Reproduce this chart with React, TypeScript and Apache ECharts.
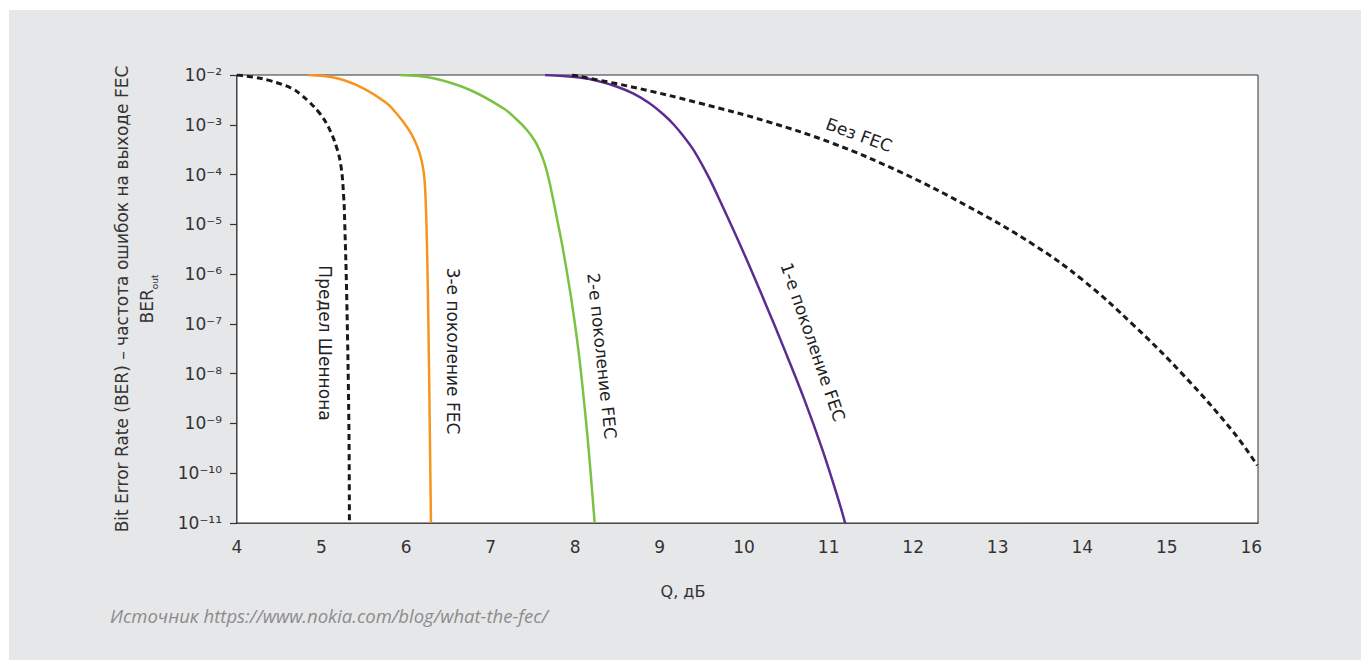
import React, { useEffect, useRef } from 'react';
import * as echarts from 'echarts';

// Q (dB) and log10(BER) readings per curve
const shannonQ = [4.0, 4.201, 4.391, 4.647, 4.76, 4.851, 4.978, 5.079, 5.176, 5.231, 5.262, 5.275, 5.299, 5.323, 5.33];
const shannonExp = [-2.0, -2.044, -2.114, -2.267, -2.402, -2.536, -2.769, -3.038, -3.44, -3.841, -4.444, -4.992, -6.518, -8.928, -11.0];

const gen3Q = [4.84, 5.183, 5.495, 5.772, 5.872, 5.968, 6.041, 6.099, 6.148, 6.182, 6.205, 6.219, 6.232, 6.249, 6.269, 6.284, 6.295];
const gen3Exp = [-2.0, -2.066, -2.267, -2.568, -2.743, -2.944, -3.124, -3.305, -3.506, -3.707, -3.908, -4.108, -4.51, -5.514, -7.522, -9.53, -11.0];

const gen2Q = [5.929, 6.323, 6.757, 7.151, 7.303, 7.43, 7.517, 7.579, 7.633, 7.677, 7.71, 7.742, 7.801, 7.858, 7.957, 8.039, 8.104, 8.161, 8.232];
const gen2Exp = [-2.0, -2.066, -2.301, -2.669, -2.884, -3.104, -3.305, -3.506, -3.747, -4.008, -4.249, -4.51, -5.012, -5.514, -6.518, -7.522, -8.526, -9.53, -11.0];

const gen1Q = [7.645, 8.095, 8.296, 8.497, 8.686, 8.876, 9.053, 9.172, 9.29, 9.401, 9.567, 9.71, 9.98, 10.234, 10.479, 10.714, 10.927, 11.116, 11.195];
const gen1Exp = [-2.0, -2.06, -2.133, -2.235, -2.369, -2.562, -2.803, -3.004, -3.245, -3.506, -4.008, -4.51, -5.514, -6.518, -7.522, -8.526, -9.53, -10.534, -11.0];

const noFecQ = [7.964, 8.686, 9.479, 10.272, 11.053, 11.846, 12.639, 13.42, 14.012, 14.604, 15.195, 15.787, 16.071];
const noFecExp = [-2.0, -2.245, -2.568, -2.934, -3.376, -3.948, -4.631, -5.404, -6.127, -7.02, -8.024, -9.169, -9.841];

const yTickExponents = [-2, -3, -4, -5, -6, -7, -8, -9, -10, -11];
const yTickLabels = ['10⁻²', '10⁻³', '10⁻⁴', '10⁻⁵', '10⁻⁶', '10⁻⁷', '10⁻⁸', '10⁻⁹', '10⁻¹⁰', '10⁻¹¹'];

const curveNames = ['Предел Шеннона', '3-е поколение FEC', '2-е поколение FEC', '1-е поколение FEC', 'Без FEC'];

const toPairs = (q: number[], e: number[]) => q.map((v, i) => [v, Math.pow(10, e[i])]);

export default function App() {
  const ref = useRef<HTMLDivElement>(null);
  useEffect(() => {
    if (!ref.current) return;
    const chart = echarts.init(ref.current, null, { renderer: 'svg' });
    const font = 'DejaVu Sans';
    const dashed = { color: '#1a1a1a', width: 3, type: [6, 4] as any };
    const labelText = (text: string, x: number, y: number, deg: number) => ({
      type: 'text',
      x,
      y,
      rotation: (deg * Math.PI) / 180,
      z: 100,
      style: {
        text,
        fontSize: 17,
        fontFamily: font,
        fill: '#222',
        align: 'center',
        verticalAlign: 'middle',
        textAlign: 'center',
        textVerticalAlign: 'middle',
      },
    });
    const line = (name: string, data: number[][], lineStyle: any) => ({
      name,
      type: 'line',
      data,
      smooth: 0.4,
      showSymbol: false,
      lineStyle,
      z: 5,
    });
    chart.setOption({
      animation: false,
      backgroundColor: '#ffffff',
      textStyle: { fontFamily: font },
      grid: {
        left: 237,
        right: 105,
        top: 75,
        bottom: 138,
        show: true,
        backgroundColor: '#ffffff',
        borderColor: '#333',
        borderWidth: 1,
        z: 1,
      },
      graphic: [
        {
          type: 'rect',
          z: -10,
          silent: true,
          shape: { x: 9, y: 10, width: 1352, height: 650 },
          style: { fill: '#e6e7e9' },
        },
        labelText(curveNames[0], 325, 343, -90),
        labelText(curveNames[1], 453, 351, -90),
        labelText(curveNames[2], 602, 356, -84),
        labelText(curveNames[3], 813, 342, -71),
        labelText(curveNames[4], 859, 135, -20),
        {
          type: 'text',
          x: 683,
          y: 591,
          style: {
            text: 'Q, дБ',
            fontSize: 16,
            fontFamily: font,
            fill: '#333',
            align: 'center',
            verticalAlign: 'middle',
            textAlign: 'center',
            textVerticalAlign: 'middle',
          },
        },
        {
          type: 'text',
          x: 110,
          y: 615,
          style: {
            text: 'Источник https://www.nokia.com/blog/what-the-fec/',
            fontSize: 18.5,
            fontStyle: 'italic',
            fontFamily: 'Open Sans',
            fill: '#8c8c8c',
            align: 'left',
            verticalAlign: 'middle',
            textAlign: 'left',
            textVerticalAlign: 'middle',
          },
        },
      ],
      xAxis: {
        type: 'value',
        min: 4,
        max: 16.08,
        interval: 1,
        axisLine: { show: true, lineStyle: { color: '#333', width: 1.5 } },
        axisTick: { show: false },
        splitLine: { show: false },
        axisLabel: {
          color: '#333',
          fontSize: 17,
          fontFamily: font,
          margin: 15,
          formatter: (v: number) => (Number.isInteger(v) ? String(v) : ''),
        },
      },
      yAxis: {
        type: 'log',
        logBase: 10,
        min: 1e-11,
        max: 1e-2,
        splitNumber: 9,
        axisLine: { show: true, lineStyle: { color: '#333', width: 1.5 } },
        axisTick: { show: true, length: 7, lineStyle: { color: '#333', width: 1.2 } },
        splitLine: { show: false },
        axisLabel: {
          color: '#333',
          fontSize: 17,
          fontFamily: font,
          margin: 15,
          formatter: (v: number) => {
            const e = Math.round(Math.log10(v));
            const idx = yTickExponents.indexOf(e);
            return idx >= 0 ? yTickLabels[idx] : '';
          },
        },
        name: 'Bit Error Rate (BER) – частота ошибок на выходе FEC\n{b|BER}{s|out}',
        nameLocation: 'middle',
        nameRotate: 90,
        nameGap: 78,
        nameTextStyle: {
          color: '#333',
          fontSize: 17,
          fontFamily: font,
          lineHeight: 25,
          rich: {
            b: { fontSize: 17, fontFamily: font, color: '#333', lineHeight: 25 },
            s: { fontSize: 9, fontFamily: font, color: '#333', verticalAlign: 'bottom', lineHeight: 25 },
          },
        },
      },
      series: [
        line(curveNames[0], toPairs(shannonQ, shannonExp), dashed),
        line(curveNames[1], toPairs(gen3Q, gen3Exp), { color: '#f7941d', width: 2.5 }),
        line(curveNames[2], toPairs(gen2Q, gen2Exp), { color: '#7cc242', width: 2.5 }),
        line(curveNames[3], toPairs(gen1Q, gen1Exp), { color: '#5b2d90', width: 2.5 }),
        line(curveNames[4], toPairs(noFecQ, noFecExp), dashed),
      ],
    });
    return () => chart.dispose();
  }, []);
  return (
    <div
      ref={ref}
      style={{ position: 'fixed', left: 0, top: 0, width: 1363, height: 661, background: '#ffffff' }}
    />
  );
}
